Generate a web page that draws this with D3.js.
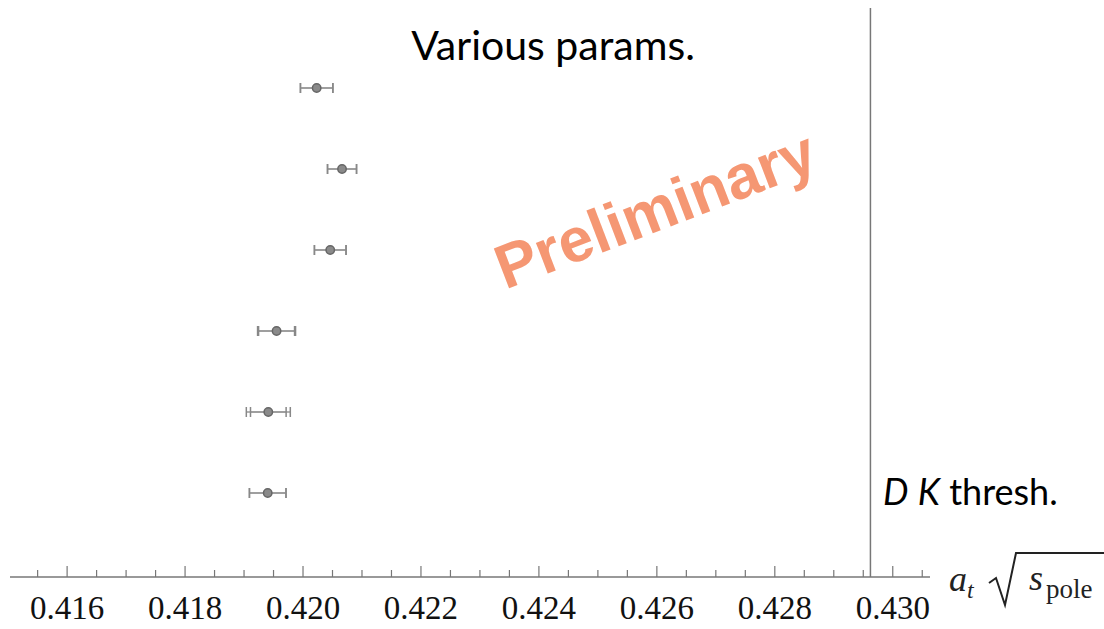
<!DOCTYPE html>
<html>
<head>
<meta charset="utf-8">
<script src="https://cdn.jsdelivr.net/npm/d3@7"></script>
<style>
  html, body { margin: 0; padding: 0; background: #fff; }
  svg { display: block; }
</style>
</head>
<body>
<svg id="chart" width="1104" height="629"></svg>
<script>
// Fit results: one row per parameter set, top to bottom
const fitRows   = ["set 1", "set 2", "set 3", "set 4", "set 5", "set 6"];
const centers   = [0.42024, 0.42067, 0.42047, 0.41956, 0.41942, 0.41941];
const statErr   = [0.000275, 0.000246, 0.000268, 0.000305, 0.000302, 0.00031];
const totalErr  = [0.000275, 0.000246, 0.000268, 0.000322, 0.000373, 0.00031];

// D K threshold position
const threshold = 0.42963;

// Axis ticks
const majorTicks = [0.416, 0.418, 0.420, 0.422, 0.424, 0.426, 0.428, 0.430];
const minorStep = 0.0005;

const svg = d3.select("#chart");

const axisY = 577;
const x = d3.scaleLinear().domain([0.41504, 0.43064]).range([10, 930]);
const y = d3.scalePoint().domain(fitRows).range([88, 493]);

// minor ticks (no labels)
const minorTicks = d3.range(0.4155, 0.4306, minorStep)
  .filter(v => !majorTicks.some(m => Math.abs(m - v) < 1e-7));

svg.append("g")
  .attr("transform", `translate(0,${axisY})`)
  .call(d3.axisBottom(x).tickValues(minorTicks).tickSize(-7).tickFormat(""))
  .call(g => g.select(".domain").remove())
  .call(g => g.selectAll(".tick line").attr("stroke", "#777").attr("stroke-width", 1.2));

const ax = svg.append("g")
  .attr("transform", `translate(0,${axisY})`)
  .call(d3.axisBottom(x).tickValues(majorTicks).tickSize(-11).tickPadding(19)
        .tickFormat(d3.format(".3f")));
ax.select(".domain").attr("d", `M${x.range()[0]},0H${x.range()[1]}`)
  .attr("stroke", "#777").attr("stroke-width", 1.6);
ax.selectAll(".tick line").attr("stroke", "#777").attr("stroke-width", 1.2);
ax.selectAll(".tick text")
  .attr("fill", "#111")
  .style("font-family", "'Liberation Serif', 'Times New Roman', serif")
  .style("font-size", "33px");

// threshold line
svg.append("line")
  .attr("x1", x(threshold)).attr("x2", x(threshold))
  .attr("y1", 8).attr("y2", axisY)
  .attr("stroke", "#777").attr("stroke-width", 1.5);

// watermark
svg.append("text")
  .attr("transform", "translate(657,214) rotate(-21)")
  .attr("text-anchor", "middle")
  .attr("dominant-baseline", "middle")
  .style("font-family", "'Liberation Sans', Arial, sans-serif")
  .style("font-weight", "bold")
  .style("font-size", "62px")
  .attr("fill", "#f5926c")
  .attr("opacity", 0.95)
  .text("Preliminary");

// error bars and points
const pts = svg.append("g");
const capH = 5;
fitRows.forEach((r, i) => {
  const cy = y(r);
  const g = pts.append("g");
  [totalErr[i], statErr[i]].forEach(e => {
    g.append("line")
      .attr("x1", x(centers[i] - e)).attr("x2", x(centers[i] + e))
      .attr("y1", cy).attr("y2", cy)
      .attr("stroke", "#999").attr("stroke-width", 1.5);
    [centers[i] - e, centers[i] + e].forEach(v => {
      g.append("line")
        .attr("x1", x(v)).attr("x2", x(v))
        .attr("y1", cy - capH).attr("y2", cy + capH)
        .attr("stroke", "#888").attr("stroke-width", 1.5);
    });
  });
  g.append("circle")
    .attr("cx", x(centers[i])).attr("cy", cy).attr("r", 4.2)
    .attr("fill", "#8a8a8a").attr("stroke", "#666").attr("stroke-width", 1.5);
});

// title
svg.append("text")
  .attr("x", 553).attr("y", 60)
  .attr("text-anchor", "middle")
  .style("font-family", "Lato, 'Open Sans', sans-serif")
  .style("font-size", "41px")
  .attr("fill", "#000")
  .text("Various params.");

// threshold label
const th = svg.append("text")
  .attr("x", 883).attr("y", 505)
  .style("font-family", "Lato, 'Open Sans', sans-serif")
  .style("font-size", "36px")
  .attr("fill", "#000");
th.append("tspan").style("font-style", "italic").text("D");
th.append("tspan").text(" ");
th.append("tspan").style("font-style", "italic").text("K");
th.append("tspan").text(" thresh.");

// axis label: a_t sqrt(s_pole)
const serif = "'Liberation Serif', 'Times New Roman', serif";
const lab = svg.append("g").style("font-family", serif).attr("fill", "#222");
lab.append("text").attr("x", 949).attr("y", 591)
  .style("font-size", "36px").style("font-style", "italic").text("a");
lab.append("text").attr("x", 967).attr("y", 598)
  .style("font-size", "24px").style("font-style", "italic").text("t");
lab.append("path")
  .attr("d", "M989,583 L996,578 L1005,605 L1016,553 H1104")
  .attr("fill", "none").attr("stroke", "#222").attr("stroke-width", 2)
  .attr("stroke-linejoin", "miter");
lab.append("text").attr("x", 1029).attr("y", 590)
  .style("font-size", "36px").style("font-style", "italic").text("s");
lab.append("text").attr("x", 1046).attr("y", 598)
  .style("font-size", "27px").text("pole");
</script>
</body>
</html>
